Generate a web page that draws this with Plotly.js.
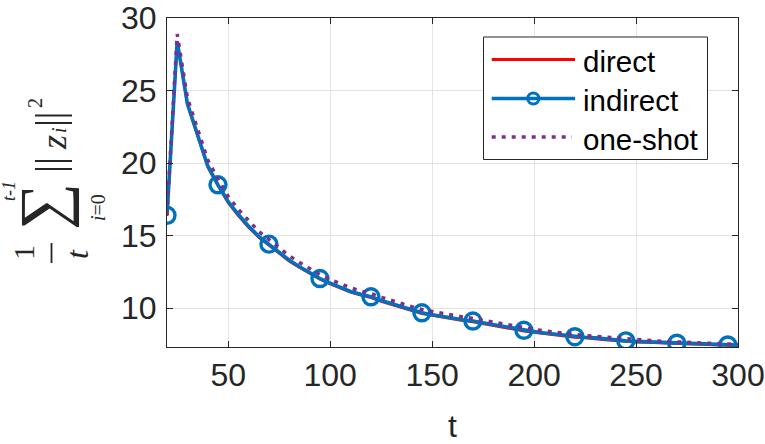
<!DOCTYPE html>
<html>
<head>
<meta charset="utf-8">
<script src="https://cdn.plot.ly/plotly-3.0.1.min.js"></script>
<style>html,body{margin:0;padding:0;background:#fff;}#chart{width:765px;height:444px;}</style>
</head>
<body>
<div id="chart"></div>
<script>
// ---- data ----
const t = [20,25,30,35,40,45,50,55,60,65,70,75,80,85,90,95,100,105,110,115,120,125,130,135,140,145,150,155,160,165,170,175,180,185,190,195,200,205,210,215,220,225,230,235,240,245,250,255,260,265,270,275,280,285,290,295,300];
const direct = [16.35,28.3,24.0,21.8,19.7,18.42,17.25,16.35,15.55,14.86,14.32,13.77,13.22,12.78,12.35,11.97,11.65,11.35,11.08,10.88,10.71,10.45,10.23,10.01,9.81,9.61,9.48,9.35,9.23,9.13,9.04,8.91,8.78,8.65,8.52,8.41,8.32,8.23,8.14,8.05,7.97,7.93,7.89,7.80,7.74,7.68,7.65,7.62,7.59,7.55,7.52,7.50,7.47,7.44,7.42,7.40,7.39];
const indirect = [16.4,28.4,24.1,21.9,19.8,18.5,17.35,16.45,15.65,14.95,14.41,13.85,13.3,12.85,12.42,12.04,11.72,11.42,11.15,10.95,10.78,10.52,10.30,10.08,9.88,9.68,9.55,9.42,9.30,9.20,9.11,8.98,8.85,8.72,8.58,8.47,8.38,8.29,8.20,8.11,8.03,7.99,7.95,7.86,7.80,7.74,7.71,7.68,7.65,7.61,7.58,7.56,7.53,7.50,7.48,7.46,7.45];
const oneShot = [16.45,28.9,24.5,22.3,20.2,18.9,17.7,16.8,16.0,15.28,14.72,14.15,13.6,13.15,12.7,12.3,11.98,11.67,11.4,11.18,11.0,10.75,10.52,10.3,10.1,9.9,9.76,9.62,9.5,9.39,9.29,9.16,9.02,8.89,8.75,8.63,8.53,8.43,8.34,8.25,8.16,8.11,8.06,8.0,7.94,7.86,7.82,7.78,7.74,7.7,7.67,7.64,7.6,7.57,7.54,7.52,7.5];
const seriesNames = ['direct','indirect','one-shot'];
const xTicks = [50,100,150,200,250,300];
const yTicks = [10,15,20,25,30];
const markerEvery = 5; // circle markers on every 5th sample of "indirect"

// ---- layout helpers ----
const W = 765, H = 444;
const M = {l:167, r:27, t:18, b:97};
const PW = W - M.l - M.r, PH = H - M.t - M.b;
const px = x => (x - M.l) / PW;
const py = y => (H - M.b - y) / PH;
const AX = '#262626';
const SANS = 'Liberation Sans, Arial, Helvetica, sans-serif';
const SERIF = 'Liberation Serif, DejaVu Serif, Times New Roman, serif';
const RED = '#FF0000', BLUE = '#0072BD', PURPLE = '#7E2F8E';
const DOTS = '4px,6px';

const mSizes = t.map((_, i) => (i % markerEvery === 0 ? 16 : 0));

const traces = [
  {x:t, y:direct, name:seriesNames[0], type:'scatter', mode:'lines',
   line:{color:RED, width:2.4}, showlegend:false},
  {x:t, y:indirect, name:seriesNames[1], type:'scatter', mode:'lines+markers',
   line:{color:BLUE, width:3.6},
   marker:{symbol:'circle-open', size:mSizes, opacity:1, color:BLUE, line:{width:3.4, color:BLUE}},
   showlegend:false},
  {x:t, y:oneShot, name:seriesNames[2], type:'scatter', mode:'lines',
   line:{color:PURPLE, width:3.5, dash:DOTS}, showlegend:false}
];

function ann(text, x, y, size, family, extra) {
  return Object.assign({text:text, xref:'paper', yref:'paper', x:px(x), y:py(y),
    xanchor:'center', yanchor:'middle', showarrow:false, textangle:-90,
    font:{size:size, family:family, color:AX}}, extra || {});
}
function hline(x0, x1, y, color, width, dash) {
  return {type:'line', xref:'paper', yref:'paper', layer:'above',
    x0:px(x0), x1:px(x1), y0:py(y), y1:py(y), line:{color:color, width:width, dash:dash || 'solid'}};
}

// y-axis title: (1/t) sum_{i=0}^{t-1} ||z_i||^2, rotated
const annotations = [
  ann('1', 23, 253, 30, SERIF),
  ann('<i>t</i>', 77, 254, 32, SERIF),
  ann('\u2211', 43, 207, 66, SERIF),
  ann('<i>t</i>-<i>1</i>', 9, 191, 18, SERIF),
  ann('<i>i</i>=0', 98, 208, 20, SERIF),
  ann('<i>z</i>', 54, 143, 36, SERIF),
  ann('<i>i</i>', 59, 130, 20, SERIF),
  ann('2', 35, 103, 20, SERIF)
];

const shapes = [
  // fraction bar
  {type:'line', xref:'paper', yref:'paper', x0:px(51.5), x1:px(51.5), y0:py(243), y1:py(263),
   line:{color:AX, width:1.8}},
  // norm bars
  hline(35, 72, 115.5, AX, 1.8), hline(35, 72, 123, AX, 1.8),
  hline(35, 72, 161, AX, 1.8), hline(35, 72, 169, AX, 1.8)
];

// ---- legend (MATLAB style: long line samples) ----
const LG = {x0:483.5, y0:37, x1:707.5, y1:159.5, sx0:491.7, sx1:575, tx:581, rows:[59.5, 98.5, 137]};
shapes.push({type:'rect', xref:'paper', yref:'paper', layer:'above',
  x0:px(LG.x0), x1:px(LG.x1), y0:py(LG.y0), y1:py(LG.y1),
  line:{color:AX, width:1}, fillcolor:'#fff'});
shapes.push(hline(LG.sx0, LG.sx1, LG.rows[0], RED, 3.2));
shapes.push(hline(LG.sx0, LG.sx1, LG.rows[1], BLUE, 3.6));
const cr = 5.6, cx = (LG.sx0 + LG.sx1) / 2;
shapes.push({type:'circle', xref:'paper', yref:'paper', layer:'above',
  x0:px(cx - cr), x1:px(cx + cr), y0:py(LG.rows[1] + cr), y1:py(LG.rows[1] - cr),
  line:{color:BLUE, width:3}, fillcolor:'rgba(0,0,0,0)'});
shapes.push(hline(LG.sx0, LG.sx1 - 3, LG.rows[2], PURPLE, 3.5, DOTS));
seriesNames.forEach((nm, i) => {
  annotations.push({text:nm, xref:'paper', yref:'paper', x:px(LG.tx), y:py(LG.rows[i] + 2),
    xanchor:'left', yanchor:'middle', showarrow:false,
    font:{size:29.5, family:SANS, color:'#000'}});
});

const layout = {
  width:W, height:H, autosize:false,
  margin:M, paper_bgcolor:'#fff', plot_bgcolor:'#fff',
  showlegend:false,
  xaxis:{range:[20,300], tickvals:xTicks, ticktext:xTicks.map(String),
    showgrid:true, gridcolor:'#e3e3e3', gridwidth:1,
    showline:true, linecolor:AX, linewidth:1, mirror:'ticks',
    ticks:'inside', ticklen:6, tickcolor:AX, zeroline:false, ticklabeloverflow:'allow',
    tickfont:{family:SANS, size:32, color:AX},
    title:{text:'t', font:{family:SANS, size:32, color:AX}, standoff:26}},
  yaxis:{range:[7.32,30], tickvals:yTicks, ticktext:yTicks.map(String),
    showgrid:true, gridcolor:'#e3e3e3', gridwidth:1,
    showline:true, linecolor:AX, linewidth:1, mirror:'ticks',
    ticks:'inside', ticklen:6, tickcolor:AX, zeroline:false, ticklabelstandoff:3,
    ticklabeloverflow:'allow',
    tickfont:{family:SANS, size:32, color:AX}},
  annotations:annotations, shapes:shapes
};

Plotly.newPlot('chart', traces, layout, {staticPlot:true, displayModeBar:false});
</script>
</body>
</html>
